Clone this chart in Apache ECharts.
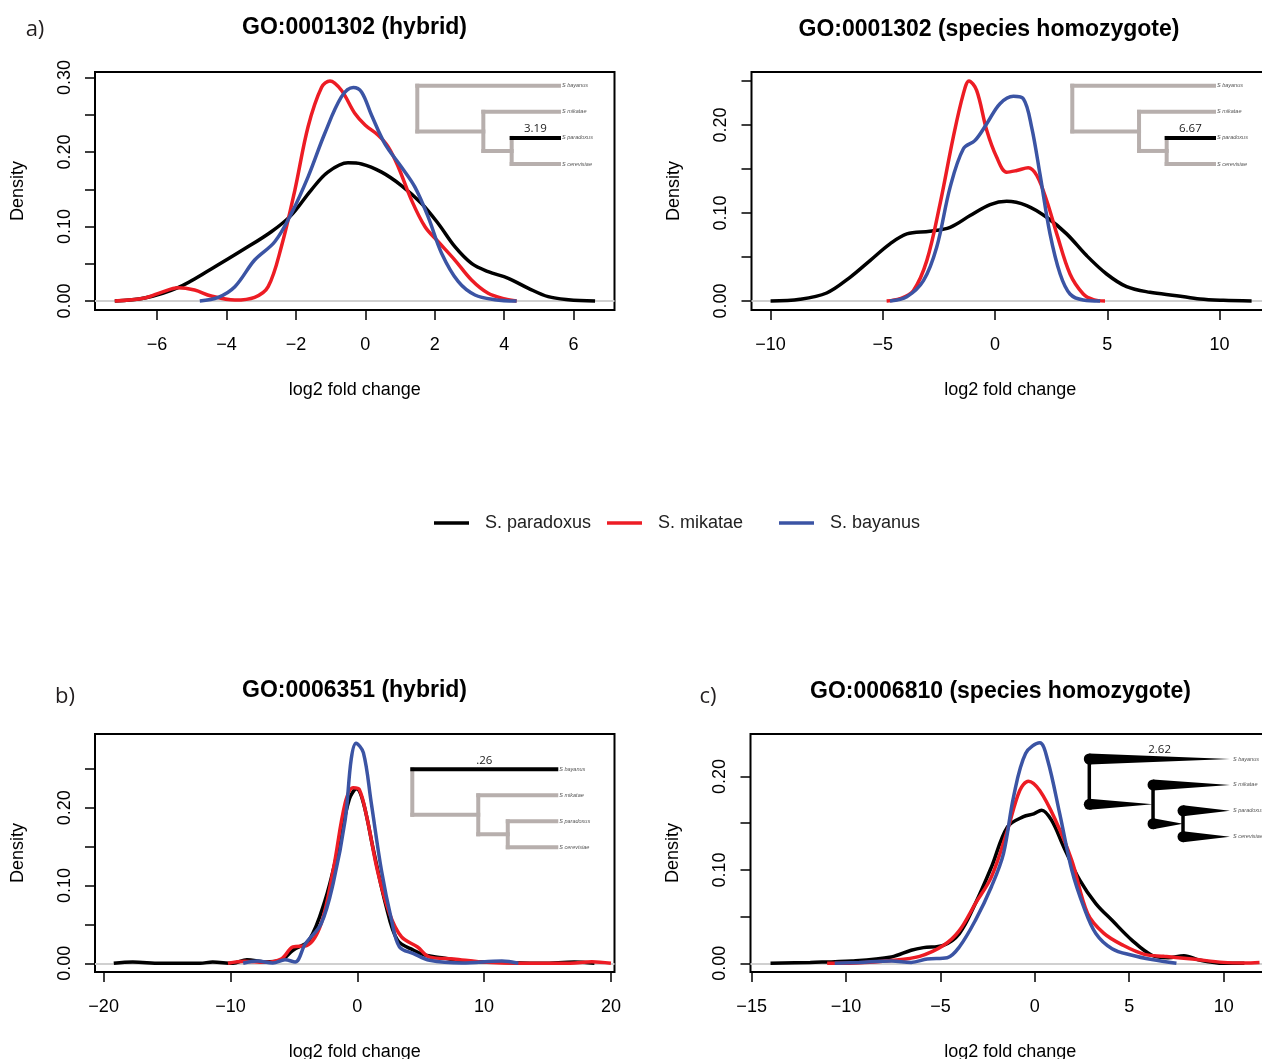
<!DOCTYPE html>
<html>
<head>
<meta charset="utf-8">
<script src="https://cdn.jsdelivr.net/npm/echarts@6/dist/echarts.min.js"></script>
<style>
html, body { margin: 0; padding: 0; background: #fff; }
#main { width: 1262px; height: 1059px; }
</style>
</head>
<body>
<div id="main"></div>
<script>
var species = ['S. paradoxus', 'S. mikatae', 'S. bayanus'];
var colors = ['#000000', '#ED1C24', '#3B54A4'];
var leaves = ['S bayanus', 'S mikatae', 'S paradoxus', 'S cerevisiae'];

// a) GO:0001302 (hybrid)   [log2 fold change, density]
var aHybParadoxus = [[-7.22,0],[-6.36,0.004],[-5.4,0.018],[-4.44,0.043],[-3.48,0.07],[-2.71,0.093],[-2.14,0.115],[-1.56,0.149],[-1.08,0.173],[-0.5,0.1855],[-0.11,0.184],[0.47,0.173],[1.04,0.155],[1.62,0.131],[2.1,0.104],[2.58,0.0729],[3.06,0.0505],[3.54,0.0394],[4.12,0.0304],[4.7,0.017],[5.27,0.0058],[5.85,0.0018],[6.62,0]];
var aHybMikatae = [[-7.22,0],[-6.36,0.004],[-5.88,0.0116],[-5.4,0.0179],[-4.92,0.0147],[-4.44,0.0067],[-3.76,0.0013],[-3.19,0.0049],[-2.8,0.0192],[-2.42,0.0729],[-2.03,0.149],[-1.65,0.234],[-1.26,0.287],[-1.02,0.2955],[-0.69,0.283],[-0.3,0.2517],[0,0.236],[0.37,0.2226],[0.66,0.207],[0.95,0.18],[1.33,0.1355],[1.72,0.0997],[2.1,0.0796],[2.58,0.055],[3.06,0.0282],[3.54,0.0103],[4.02,0.0027],[4.36,0]];
var aHybBayanus = [[-4.77,0],[-4.24,0.0049],[-3.76,0.0192],[-3.19,0.055],[-2.61,0.0796],[-2.13,0.1176],[-1.65,0.1667],[-1.17,0.2249],[-0.69,0.274],[-0.35,0.2866],[-0.11,0.2807],[0.18,0.2494],[0.56,0.2114],[1.04,0.18],[1.43,0.153],[1.81,0.113],[2.2,0.0639],[2.68,0.0259],[3.16,0.008],[3.73,0.0018],[4.36,0]];

// GO:0001302 (species homozygote)
var aHomParadoxus = [[-10,0],[-8.69,0.0019],[-7.5,0.0091],[-6.46,0.0269],[-5.57,0.0459],[-4.68,0.0649],[-3.93,0.0763],[-2.9,0.0793],[-2.0,0.0838],[-1.11,0.0971],[-0.22,0.1096],[0.52,0.1134],[1.41,0.1085],[2.3,0.0952],[3.19,0.0763],[4.08,0.0516],[4.97,0.0307],[5.86,0.0163],[6.9,0.0099],[8.09,0.0061],[9.13,0.0023],[10.17,0.0008],[11.43,0]];
var aHomMikatae = [[-4.83,0],[-4.23,0.0027],[-3.64,0.0118],[-3.04,0.0459],[-2.45,0.1104],[-1.86,0.1863],[-1.41,0.2356],[-1.16,0.25],[-0.82,0.2394],[-0.37,0.1939],[0.07,0.1635],[0.52,0.1464],[0.97,0.1483],[1.48,0.1514],[1.86,0.1426],[2.3,0.1142],[2.75,0.0763],[3.34,0.0307],[3.93,0.008],[4.38,0.0015],[4.9,0]];
var aHomBayanus = [[-4.68,0],[-3.93,0.0049],[-3.19,0.0231],[-2.6,0.0611],[-2.0,0.1294],[-1.41,0.173],[-0.89,0.1825],[-0.37,0.2014],[0.22,0.2242],[0.82,0.2326],[1.26,0.2299],[1.63,0.1977],[2.0,0.1445],[2.45,0.0763],[2.9,0.0307],[3.34,0.008],[3.93,0.0011],[4.68,0]];

// b) GO:0006351 (hybrid)
var bHybParadoxus = [[-19.2,0],[-17.7,0.0017],[-15.5,0],[-12.4,0],[-11.4,0.0017],[-9.8,0],[-8.7,0.0047],[-7.3,0.0017],[-6.0,0.004],[-5.07,0.0168],[-3.8,0.0297],[-2.54,0.081],[-1.58,0.142],[-0.63,0.211],[-0.06,0.2245],[0.48,0.2065],[1.27,0.146],[2.22,0.077],[3.17,0.0297],[4.44,0.0168],[5.39,0.0103],[6.66,0.0073],[8.24,0.003],[11.4,0.0013],[14.6,0],[17.1,0.0017],[18.7,0]];
var bHybMikatae = [[-10.2,0],[-8.9,0.0026],[-7.3,0.0013],[-6.0,0.0056],[-5.07,0.021],[-3.96,0.023],[-2.85,0.051],[-1.9,0.12],[-0.95,0.2065],[-0.32,0.226],[0.16,0.2237],[0.79,0.185],[1.58,0.12],[2.54,0.064],[3.49,0.034],[4.75,0.021],[5.7,0.008],[7.6,0.0056],[9.8,0.0017],[13,0],[16.8,0],[18.5,0.002],[20,0]];
var bHybBayanus = [[-9.0,0],[-7.9,0.003],[-6.66,0.0004],[-5.7,0.0047],[-4.9,0.0017],[-4.1,0.025],[-2.85,0.051],[-1.9,0.103],[-0.95,0.185],[-0.48,0.2625],[-0.1,0.283],[0.48,0.271],[1.1,0.2065],[1.9,0.12],[2.7,0.0556],[3.33,0.021],[4.44,0.0125],[5.7,0.0039],[8.24,0.0004],[11.4,0.003],[12.7,0]];

// c) GO:0006810 (species homozygote)
var cHomParadoxus = [[-14.0,0],[-11.9,0.001],[-9.7,0.0025],[-7.6,0.0068],[-6.55,0.014],[-5.9,0.0168],[-4.85,0.0193],[-4.0,0.0318],[-3.15,0.064],[-2.3,0.103],[-1.45,0.146],[-0.6,0.157],[-0.06,0.16],[0.36,0.164],[0.89,0.153],[1.53,0.1246],[2.38,0.089],[3.23,0.064],[4.09,0.046],[5.15,0.0246],[6.2,0.0086],[7.06,0.006],[7.9,0.0082],[8.77,0.0032],[10.0,0],[11.1,0]];
var cHomMikatae = [[-11.0,0],[-9.5,0.0004],[-7.6,0.003],[-6.1,0.0075],[-4.85,0.019],[-4.0,0.035],[-3.15,0.064],[-2.3,0.0925],[-1.45,0.1425],[-0.8,0.185],[-0.34,0.195],[0.26,0.185],[1.1,0.153],[1.96,0.11],[2.8,0.053],[3.66,0.032],[4.7,0.019],[5.8,0.0096],[6.85,0.0075],[8.34,0.0046],[10.0,0.001],[11.1,0.0004],[11.9,0.001]];
var cHomBayanus = [[-10.6,0],[-9.3,0.001],[-7.6,0.0025],[-6.55,0.001],[-5.7,0.0046],[-4.64,0.006],[-4.0,0.0175],[-3.15,0.046],[-2.3,0.082],[-1.66,0.1175],[-1.13,0.178],[-0.49,0.2246],[0.26,0.236],[0.68,0.2175],[1.32,0.16],[1.96,0.0996],[2.6,0.06],[3.23,0.032],[4.09,0.0157],[5.15,0.0086],[6.2,0.004],[7.5,0]];

// tick values
var xTicksA1 = [-6, -4, -2, 0, 2, 4, 6];
var xTicksA2 = [-10, -5, 0, 5, 10];
var xTicksB = [-20, -10, 0, 10, 20];
var xTicksC = [-15, -10, -5, 0, 5, 10];
var yTicksA1 = [0, 0.05, 0.10, 0.15, 0.20, 0.25, 0.30];
var yLabelsA1 = [0, 0.10, 0.20, 0.30];
var yTicksA2 = [0, 0.05, 0.10, 0.15, 0.20, 0.25];
var yLabelsA2 = [0, 0.10, 0.20];
var yTicksB = [0, 0.05, 0.10, 0.15, 0.20, 0.25];
var yLabelsB = [0, 0.10, 0.20];
var yTicksC = [0, 0.05, 0.10, 0.15, 0.20];
var yLabelsC = [0, 0.10, 0.20];

// tree node depths (fraction of tree width)
var treeDepthA1 = [0.466, 0.666];
var treeDepthA2 = [0.471, 0.666];
var treeDepthB = [0.458, 0.663];
var treeDepthC = [0.453, 0.666];

var FONT = '"Liberation Sans", Arial, sans-serif';

var panels = [
  { title: 'GO:0001302 (hybrid)', tx: 354.5, ty: 28, tag: 'a)', gx: 35, gy: 30, nameShift: 0,
    grid: { left: 95, top: 72, width: 519.5, height: 238 }, xr: [-7.79, 7.18], yr: [-0.0121, 0.3075],
    xt: xTicksA1, yt: yTicksA1, yl: yLabelsA1, data: [aHybParadoxus, aHybMikatae, aHybBayanus],
    tree: { left: 417.3, top: 85.7, width: 141.7, height: 78.3, depth: treeDepthA1, hl: 2, label: '3.19', wedge: false } },
  { title: 'GO:0001302 (species homozygote)', tx: 989, ty: 30, tag: '', gx: 0, gy: 0, nameShift: 2,
    grid: { left: 751.5, top: 72, width: 519.4, height: 238 }, xr: [-10.85, 12.29], yr: [-0.0102, 0.2602],
    xt: xTicksA2, yt: yTicksA2, yl: yLabelsA2, data: [aHomParadoxus, aHomMikatae, aHomBayanus],
    tree: { left: 1072.3, top: 85.7, width: 141.7, height: 78.3, depth: treeDepthA2, hl: 2, label: '6.67', wedge: false } },
  { title: 'GO:0006351 (hybrid)', tx: 354.5, ty: 690.5, tag: 'b)', gx: 65, gy: 697, nameShift: 0,
    grid: { left: 95, top: 734, width: 519.5, height: 238 }, xr: [-20.68, 20.28], yr: [-0.0112, 0.295],
    xt: xTicksB, yt: yTicksB, yl: yLabelsB, data: [bHybParadoxus, bHybMikatae, bHybBayanus],
    tree: { left: 412.3, top: 769.3, width: 144, height: 78, depth: treeDepthB, hl: 0, label: '.26', wedge: false } },
  { title: 'GO:0006810 (species homozygote)', tx: 1000.5, ty: 691.5, tag: 'c)', gx: 708, gy: 697, nameShift: 15,
    grid: { left: 750.5, top: 734, width: 534.5, height: 238 }, xr: [-15.06, 13.25], yr: [-0.0093, 0.2455],
    xt: xTicksC, yt: yTicksC, yl: yLabelsC, data: [cHomParadoxus, cHomMikatae, cHomBayanus],
    tree: { left: 1089.3, top: 759, width: 140.7, height: 77.7, depth: treeDepthC, hl: 0, label: '2.62', wedge: true } }
];

function fmtX(v) { return v < 0 ? '\u2212' + Math.abs(v) : String(v); }

function treeSegments(depth) {
  var d1 = depth[0], d2 = depth[1];
  // [x1, y1, x2, y2, leaf index or -1]
  return [
    [0, 0, 0, 1.75, -1],
    [d1, 1, d1, 2.5, -1],
    [d2, 2, d2, 3, -1],
    [0, 0, 1, 0, 0],
    [0, 1.75, d1, 1.75, -1],
    [d1, 1, 1, 1, 1],
    [d1, 2.5, d2, 2.5, -1],
    [d2, 2, 1, 2, 2],
    [d2, 3, 1, 3, 3]
  ];
}

function makeTreeRender(tree) {
  return function (params, api) {
    var p1 = api.coord([api.value(0), api.value(1)]);
    var p2 = api.coord([api.value(2), api.value(3)]);
    var leaf = api.value(4);
    var horiz = api.value(1) === api.value(3);
    var hl = leaf === tree.hl;
    var children = [];
    if (tree.wedge && horiz) {
      children.push({ type: 'polygon', shape: { points: [[p1[0], p1[1] - 5.5], [p2[0], p1[1]], [p1[0], p1[1] + 5.5]] }, style: { fill: '#000' } });
      children.push({ type: 'circle', shape: { cx: p1[0], cy: p1[1], r: 5.5 }, style: { fill: '#000' } });
    } else {
      var col = tree.wedge ? '#000' : (hl ? '#000' : '#B7AFAD');
      children.push({ type: 'line', shape: { x1: p1[0], y1: p1[1], x2: p2[0], y2: p2[1] },
        style: { stroke: col, lineWidth: tree.wedge ? 3.5 : 4, lineCap: 'square' } });
    }
    if (leaf >= 0) {
      children.push({ type: 'text', x: p2[0] + 3, y: p2[1],
        style: { text: leaves[leaf], fontSize: 5.5, fontStyle: 'italic', fontFamily: FONT, fill: '#555', verticalAlign: 'middle' } });
    }
    if (hl) {
      children.push({ type: 'text', x: (p1[0] + p2[0]) / 2, y: p1[1] - 3,
        style: { text: tree.label, fontSize: 11.5, fontFamily: '"Open Sans", sans-serif', fill: '#222', align: 'center', verticalAlign: 'bottom' } });
    }
    return { type: 'group', children: children };
  };
}

var grids = [], xAxes = [], yAxes = [], series = [], graphics = [];

panels.forEach(function (p, i) {
  grids.push({ left: p.grid.left, top: p.grid.top, width: p.grid.width, height: p.grid.height,
    outerBoundsMode: 'none', containLabel: false,
    show: true, borderColor: '#000', borderWidth: 2, backgroundColor: 'transparent' });
  xAxes.push({
    type: 'value', gridIndex: i, min: p.xr[0], max: p.xr[1],
    name: 'log2 fold change', nameLocation: 'middle', nameGap: 71,
    nameTextStyle: { fontSize: 18, color: '#000', fontFamily: FONT, padding: [0, p.nameShift, 0, 0] },
    axisLine: { show: false, onZero: false },
    axisTick: { show: true, inside: false, length: 10, customValues: p.xt, lineStyle: { color: '#000', width: 1.5 } },
    axisLabel: { show: true, customValues: p.xt, margin: 26, fontSize: 18, color: '#000', fontFamily: FONT, formatter: fmtX },
    splitLine: { show: false }
  });
  yAxes.push({
    type: 'value', gridIndex: i, min: p.yr[0], max: p.yr[1],
    name: 'Density', nameLocation: 'middle', nameGap: 68, nameRotate: 90,
    nameTextStyle: { fontSize: 18, color: '#000', fontFamily: FONT },
    axisLine: { show: false, onZero: false },
    axisTick: { show: true, inside: false, length: 10, customValues: p.yt, lineStyle: { color: '#000', width: 1.5 } },
    axisLabel: { show: true, customValues: p.yl, rotate: 90, margin: 21, fontSize: 18, color: '#000', fontFamily: FONT,
      formatter: function (v) { return v.toFixed(2); } },
    splitLine: { show: false }
  });
  p.data.forEach(function (d, k) {
    var s = {
      name: species[k], type: 'line', xAxisIndex: i, yAxisIndex: i, data: d,
      smooth: 0.35, symbol: 'none', silent: true, z: 3 + k,
      lineStyle: { color: colors[k], width: 3.5 }, itemStyle: { color: colors[k] }
    };
    if (k === 0) {
      s.markLine = { silent: true, symbol: 'none', label: { show: false }, z: 1,
        lineStyle: { color: '#D0D0D0', width: 2, type: 'solid' }, data: [{ yAxis: 0 }] };
    }
    series.push(s);
  });
  graphics.push({ type: 'text', x: p.tx, y: p.ty,
    style: { text: p.title, fontSize: 23, fontWeight: 'bold', fontFamily: FONT, fill: '#000', align: 'center', verticalAlign: 'middle' } });
  if (p.tag) {
    graphics.push({ type: 'text', x: p.gx, y: p.gy,
      style: { text: p.tag, fontSize: 22, fontFamily: '"Open Sans", sans-serif', fill: '#231F20', align: 'center', verticalAlign: 'middle' } });
  }
});

panels.forEach(function (p, i) {
  var gi = panels.length + i;
  grids.push({ left: p.tree.left, top: p.tree.top, width: p.tree.width, height: p.tree.height,
    outerBoundsMode: 'none', containLabel: false, show: false });
  xAxes.push({ type: 'value', gridIndex: gi, min: 0, max: 1, show: false });
  yAxes.push({ type: 'value', gridIndex: gi, min: 0, max: 3, inverse: true, show: false });
  series.push({
    type: 'custom', xAxisIndex: gi, yAxisIndex: gi, silent: true, z: 10,
    renderItem: makeTreeRender(p.tree), data: treeSegments(p.tree.depth)
  });
});

var legendBase = {
  top: 514, orient: 'horizontal', padding: 0, icon: 'rect', itemWidth: 35, itemHeight: 3.5,
  selectedMode: false, textStyle: { fontSize: 18, color: '#222', fontFamily: FONT, padding: [0, 0, 0, 11] }
};
var legendLeft = [434, 607, 779];
var legends = species.map(function (s, k) {
  return Object.assign({}, legendBase, { left: legendLeft[k], data: [s] });
});

var chart = echarts.init(document.getElementById('main'));
chart.setOption({
  animation: false,
  backgroundColor: '#fff',
  grid: grids,
  xAxis: xAxes,
  yAxis: yAxes,
  legend: legends,
  graphic: graphics,
  series: series
});
</script>
</body>
</html>
